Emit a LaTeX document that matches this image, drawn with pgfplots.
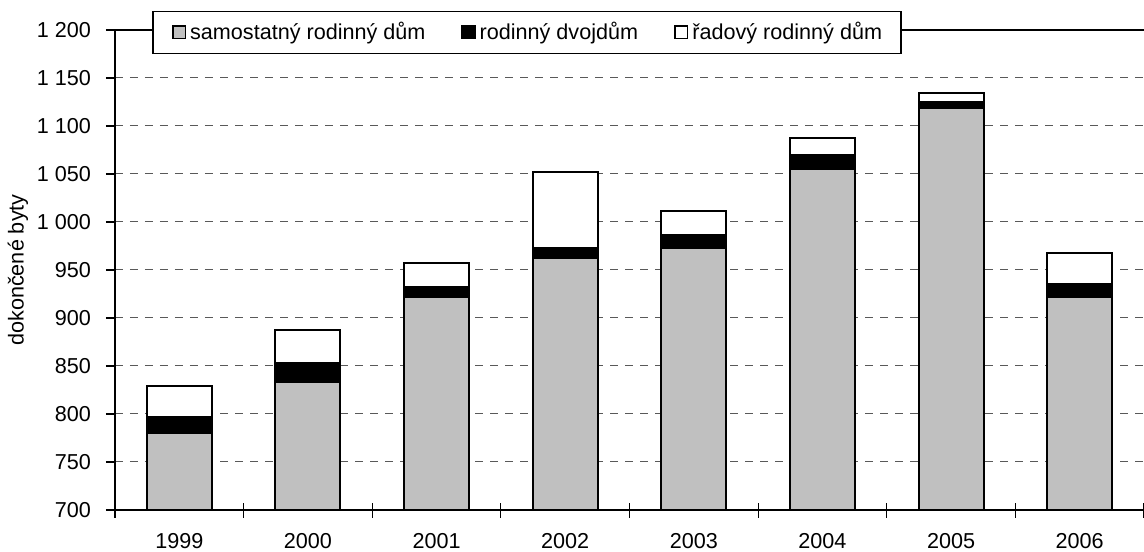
\documentclass[border=0pt]{standalone}
\usepackage{pgfplots}
\pgfplotsset{compat=1.18}
\usepackage{fontspec}
\setmainfont{Liberation Sans}
\definecolor{barGray}{HTML}{C0C0C0}
\begin{document}
\begin{tikzpicture}[font=\fontsize{10.8pt}{13pt}\selectfont]
\begin{axis}[
  scale only axis, width=514.5pt, height=240pt,
  at={(0,0)}, anchor=south west,
  ybar stacked, bar width=32.5pt,
  xmin=-0.5, xmax=7.5, ymin=700, ymax=1200,
  axis x line*=bottom, axis y line*=left,
  axis line style={line width=1pt, black},
  tick align=outside, major tick length=4.5pt,
  major tick style={line width=0.6pt, black},
  ytick={700,750,...,1200},
  yticklabels={700,750,800,850,900,950,1 000,1 050,1 100,1 150,1 200},
  yticklabel style={xshift=-4pt},
  xtick={0,1,2,3,4,5,6,7},
  xticklabels={1999,2000,2001,2002,2003,2004,2005,2006},
  xticklabel style={yshift=-3.5pt},
  major x tick style={draw=none},
  extra x ticks={-0.5,0.5,1.5,2.5,3.5,4.5,5.5,6.5,7.5},
  extra x tick labels={},
  extra x tick style={major tick length=7.5pt, tick align=center,
    major x tick style={draw=black, line width=0.6pt}},
  ymajorgrids,
  major grid style={black!65, line width=0.5pt, dash pattern=on 4pt off 3.5pt},
  ylabel={dokončené byty},
  ylabel style={at={(axis description cs:-0.0943,0.5)}, anchor=center},
  legend columns=3,
  legend style={at={(axis description cs:0.4004,0.9948)}, anchor=center,
    draw=black, line width=0.6pt, fill=white, inner xsep=9.5pt, inner ysep=4pt,
    font=\fontsize{10.8pt}{13pt}\selectfont,
    nodes={inner xsep=0pt, inner ysep=1.5pt},
    /tikz/every odd column/.append style={column sep=2pt},
    /tikz/every even column/.append style={column sep=18pt}},
]
\draw[line width=1pt, black] (rel axis cs:0,1) -- (rel axis cs:1,1);
\addplot[fill=barGray, draw=black, line width=1pt,
  legend image code/.code={\draw[fill=barGray,draw=black,line width=0.8pt] (0pt,-3.1pt) rectangle (6.3pt,3.2pt);}]
  coordinates {(0,780) (1,833) (2,922) (3,962) (4,973) (5,1055) (6,1119) (7,922)};
\addplot[fill=black, draw=black, line width=1pt,
  legend image code/.code={\draw[fill=black,draw=black,line width=0.8pt] (0pt,-3.1pt) rectangle (6.3pt,3.2pt);}]
  coordinates {(0,17) (1,20) (2,10) (3,11) (4,13) (5,15) (6,6) (7,13)};
\addplot[fill=white, draw=black, line width=1pt,
  legend image code/.code={\draw[fill=white,draw=black,line width=0.8pt] (0pt,-3.1pt) rectangle (6.3pt,3.2pt);}]
  coordinates {(0,32) (1,34) (2,25) (3,79) (4,25) (5,17) (6,9) (7,33)};
\legend{samostatný rodinný dům, rodinný dvojdům, řadový rodinný dům}
\end{axis}
\pgfresetboundingbox
\path[use as bounding box] (-57.5pt,-20.5pt) rectangle (514.5pt,255pt);
\end{tikzpicture}
\end{document}
